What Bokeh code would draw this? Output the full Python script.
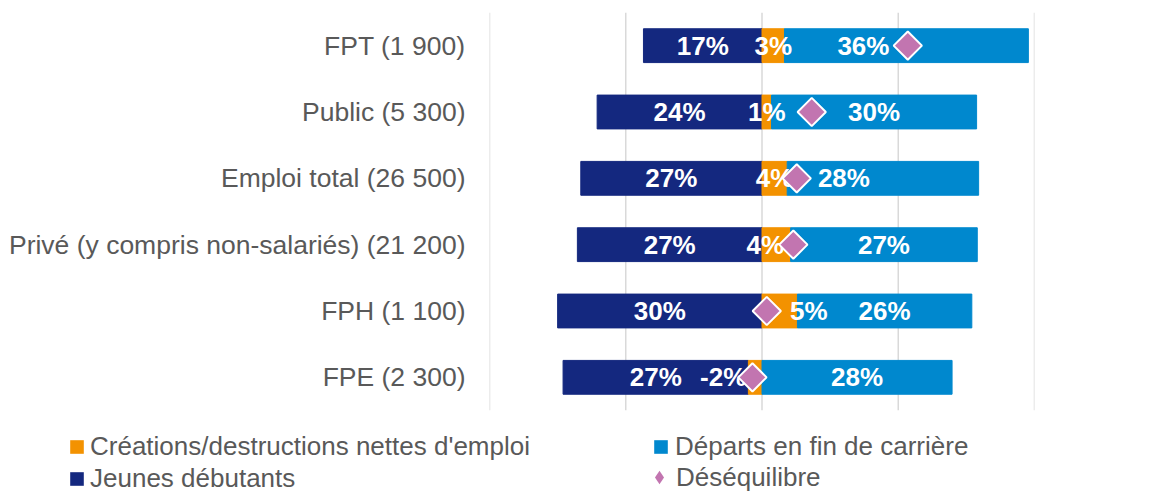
import numpy as np
from bokeh.plotting import figure
from bokeh.models import (ColumnDataSource, FactorRange, Range1d, Span,
                          Legend, LegendItem)
from bokeh.core.properties import value
from bokeh.embed import file_html
from bokeh.resources import INLINE

# ---- data (top to bottom) ----
categories = ["FPT (1 900)", "Public (5 300)", "Emploi total (26 500)",
              "Privé (y compris non-salariés) (21 200)", "FPH (1 100)", "FPE (2 300)"]
creations = [3.3, 1.4, 3.7, 4.2, 5.2, -2.0]          # Créations/destructions nettes d'emploi (%)
departs = [35.8, 30.1, 28.1, 27.4, 25.6, 27.9]       # Départs en fin de carrière (%)
jeunes = [17.4, 24.2, 26.6, 27.1, 30.0, 27.2]        # Jeunes débutants (%)
desequilibre = [21.4, 7.3, 5.1, 4.6, 0.7, -1.4]      # Déséquilibre (%)
x_ticks = [-40, -20, 0, 20, 40]
legend_labels = ["Créations/destructions nettes d'emploi", "Jeunes débutants",
                 "Départs en fin de carrière", "Déséquilibre"]

# ---- styles ----
C_CRE = "#F39200"
C_DEP = "#0088CE"
C_JEU = "#14287F"
C_DES = "#C275B0"
C_GRID = "#D9D9D9"
FONT = "Liberation Sans"
TXT = "#595959"
# pixel nudges of some data labels (series, row index) -> x offset in px
label_nudge = {("dep", 0): -43, ("dep", 2): -39, ("cre", 5): -32, ("cre", 4): 29, ("cre", 3): -11}

cre = np.array(creations)
dep = np.array(departs)
jeu = np.array(jeunes)
neg_base = np.minimum(cre, 0)
pos_base = np.maximum(cre, 0)

src_cre = ColumnDataSource(dict(cat=categories, left=np.zeros(len(cre)), right=cre))
src_dep = ColumnDataSource(dict(cat=categories, left=pos_base, right=pos_base + dep))
src_jeu = ColumnDataSource(dict(cat=categories, left=neg_base - jeu, right=neg_base))
src_des = ColumnDataSource(dict(cat=categories, x=desequilibre))

p = figure(width=1160, height=420,
           y_range=FactorRange(factors=list(reversed(categories))),
           x_range=Range1d(x_ticks[0], x_ticks[-1]),
           x_axis_location=None,
           output_backend="svg", toolbar_location=None,
           min_border_left=489, min_border_right=126,
           min_border_top=12, min_border_bottom=10)
p.outline_line_color = None
p.xgrid.visible = False
p.ygrid.visible = False

for t in x_ticks:
    p.add_layout(Span(location=t, dimension="height", line_color=C_GRID,
                      line_width=1.5, level="underlay"))

yax = p.yaxis[0]
yax.axis_line_color = None
yax.major_tick_line_color = None
yax.minor_tick_line_color = None
yax.major_tick_out = 0
yax.major_tick_in = 0
yax.major_label_standoff = 24
yax.major_label_text_font = FONT
yax.major_label_text_font_size = "26.5px"
yax.major_label_text_color = TXT

H = 0.51
p.hbar(y="cat", left="left", right="right", height=H, fill_color=C_JEU,
       line_color=C_JEU, source=src_jeu)
p.hbar(y="cat", left="left", right="right", height=H, fill_color=C_CRE,
       line_color=C_CRE, source=src_cre)
p.hbar(y="cat", left="left", right="right", height=H, fill_color=C_DEP,
       line_color=C_DEP, source=src_dep)

def add_labels(key, src, vals):
    left = np.array(src.data["left"])
    right = np.array(src.data["right"])
    mid = (left + right) / 2
    texts = [f"{v:.0f}%" for v in vals]
    offs = [label_nudge.get((key, i), 0) for i in range(len(vals))]
    s = ColumnDataSource(dict(x=mid, y=categories, t=texts, xo=offs))
    p.text(x="x", y="y", text="t", x_offset="xo", source=s,
           text_font=value(FONT), text_font_style="bold", text_font_size="26px",
           text_color="white", text_align="center", text_baseline="middle")

add_labels("jeu", src_jeu, jeunes)
add_labels("cre", src_cre, creations)
add_labels("dep", src_dep, departs)

p.scatter(x="x", y="cat", source=src_des, marker="square", angle=np.pi / 4, size=20,
          fill_color=C_DES, line_color="white", line_width=2)

# ---- legend strip below the chart (separate root, its frame = whole strip) ----
pl = figure(width=1160, height=71, x_range=Range1d(0, 1), y_range=Range1d(0, 1),
            x_axis_location=None, y_axis_location=None,
            output_backend="svg", toolbar_location=None,
            min_border_left=0, min_border_right=0, min_border_top=0, min_border_bottom=0)
pl.outline_line_color = None
pl.xgrid.visible = False
pl.ygrid.visible = False

# legend proxies (kept outside the visible range of the strip)
px, py = [-5], [-5]
d_cre = pl.rect(x=px, y=py, width=1, height=1, fill_color=C_CRE, line_color=None)
d_jeu = pl.rect(x=px, y=py, width=1, height=1, fill_color=C_JEU, line_color=None)
d_dep = pl.rect(x=px, y=py, width=1, height=1, fill_color=C_DEP, line_color=None)
d_des = pl.scatter(x=px, y=py, marker="diamond", fill_color=C_DES, line_color=None)

common = dict(padding=0, margin=0, border_line_color=None, background_fill_alpha=0,
              label_text_font=FONT, label_text_font_size="26px", label_text_color=TXT,
              label_height=32, spacing=0)

leg1 = Legend(items=[LegendItem(label=legend_labels[0], renderers=[d_cre]),
                     LegendItem(label=legend_labels[1], renderers=[d_jeu])],
              location=(68, -3), glyph_width=17, glyph_height=17,
              label_standoff=5, **common)
leg2 = Legend(items=[LegendItem(label=legend_labels[2], renderers=[d_dep])],
              location=(652, 29), glyph_width=17, glyph_height=17,
              label_standoff=6, **common)
leg3 = Legend(items=[LegendItem(label=legend_labels[3], renderers=[d_des])],
              location=(642, -3), glyph_width=34, glyph_height=34,
              label_standoff=0, **common)
for lg in (leg1, leg2, leg3):
    pl.add_layout(lg)

open("out.html", "w").write(file_html([p, pl], INLINE))
